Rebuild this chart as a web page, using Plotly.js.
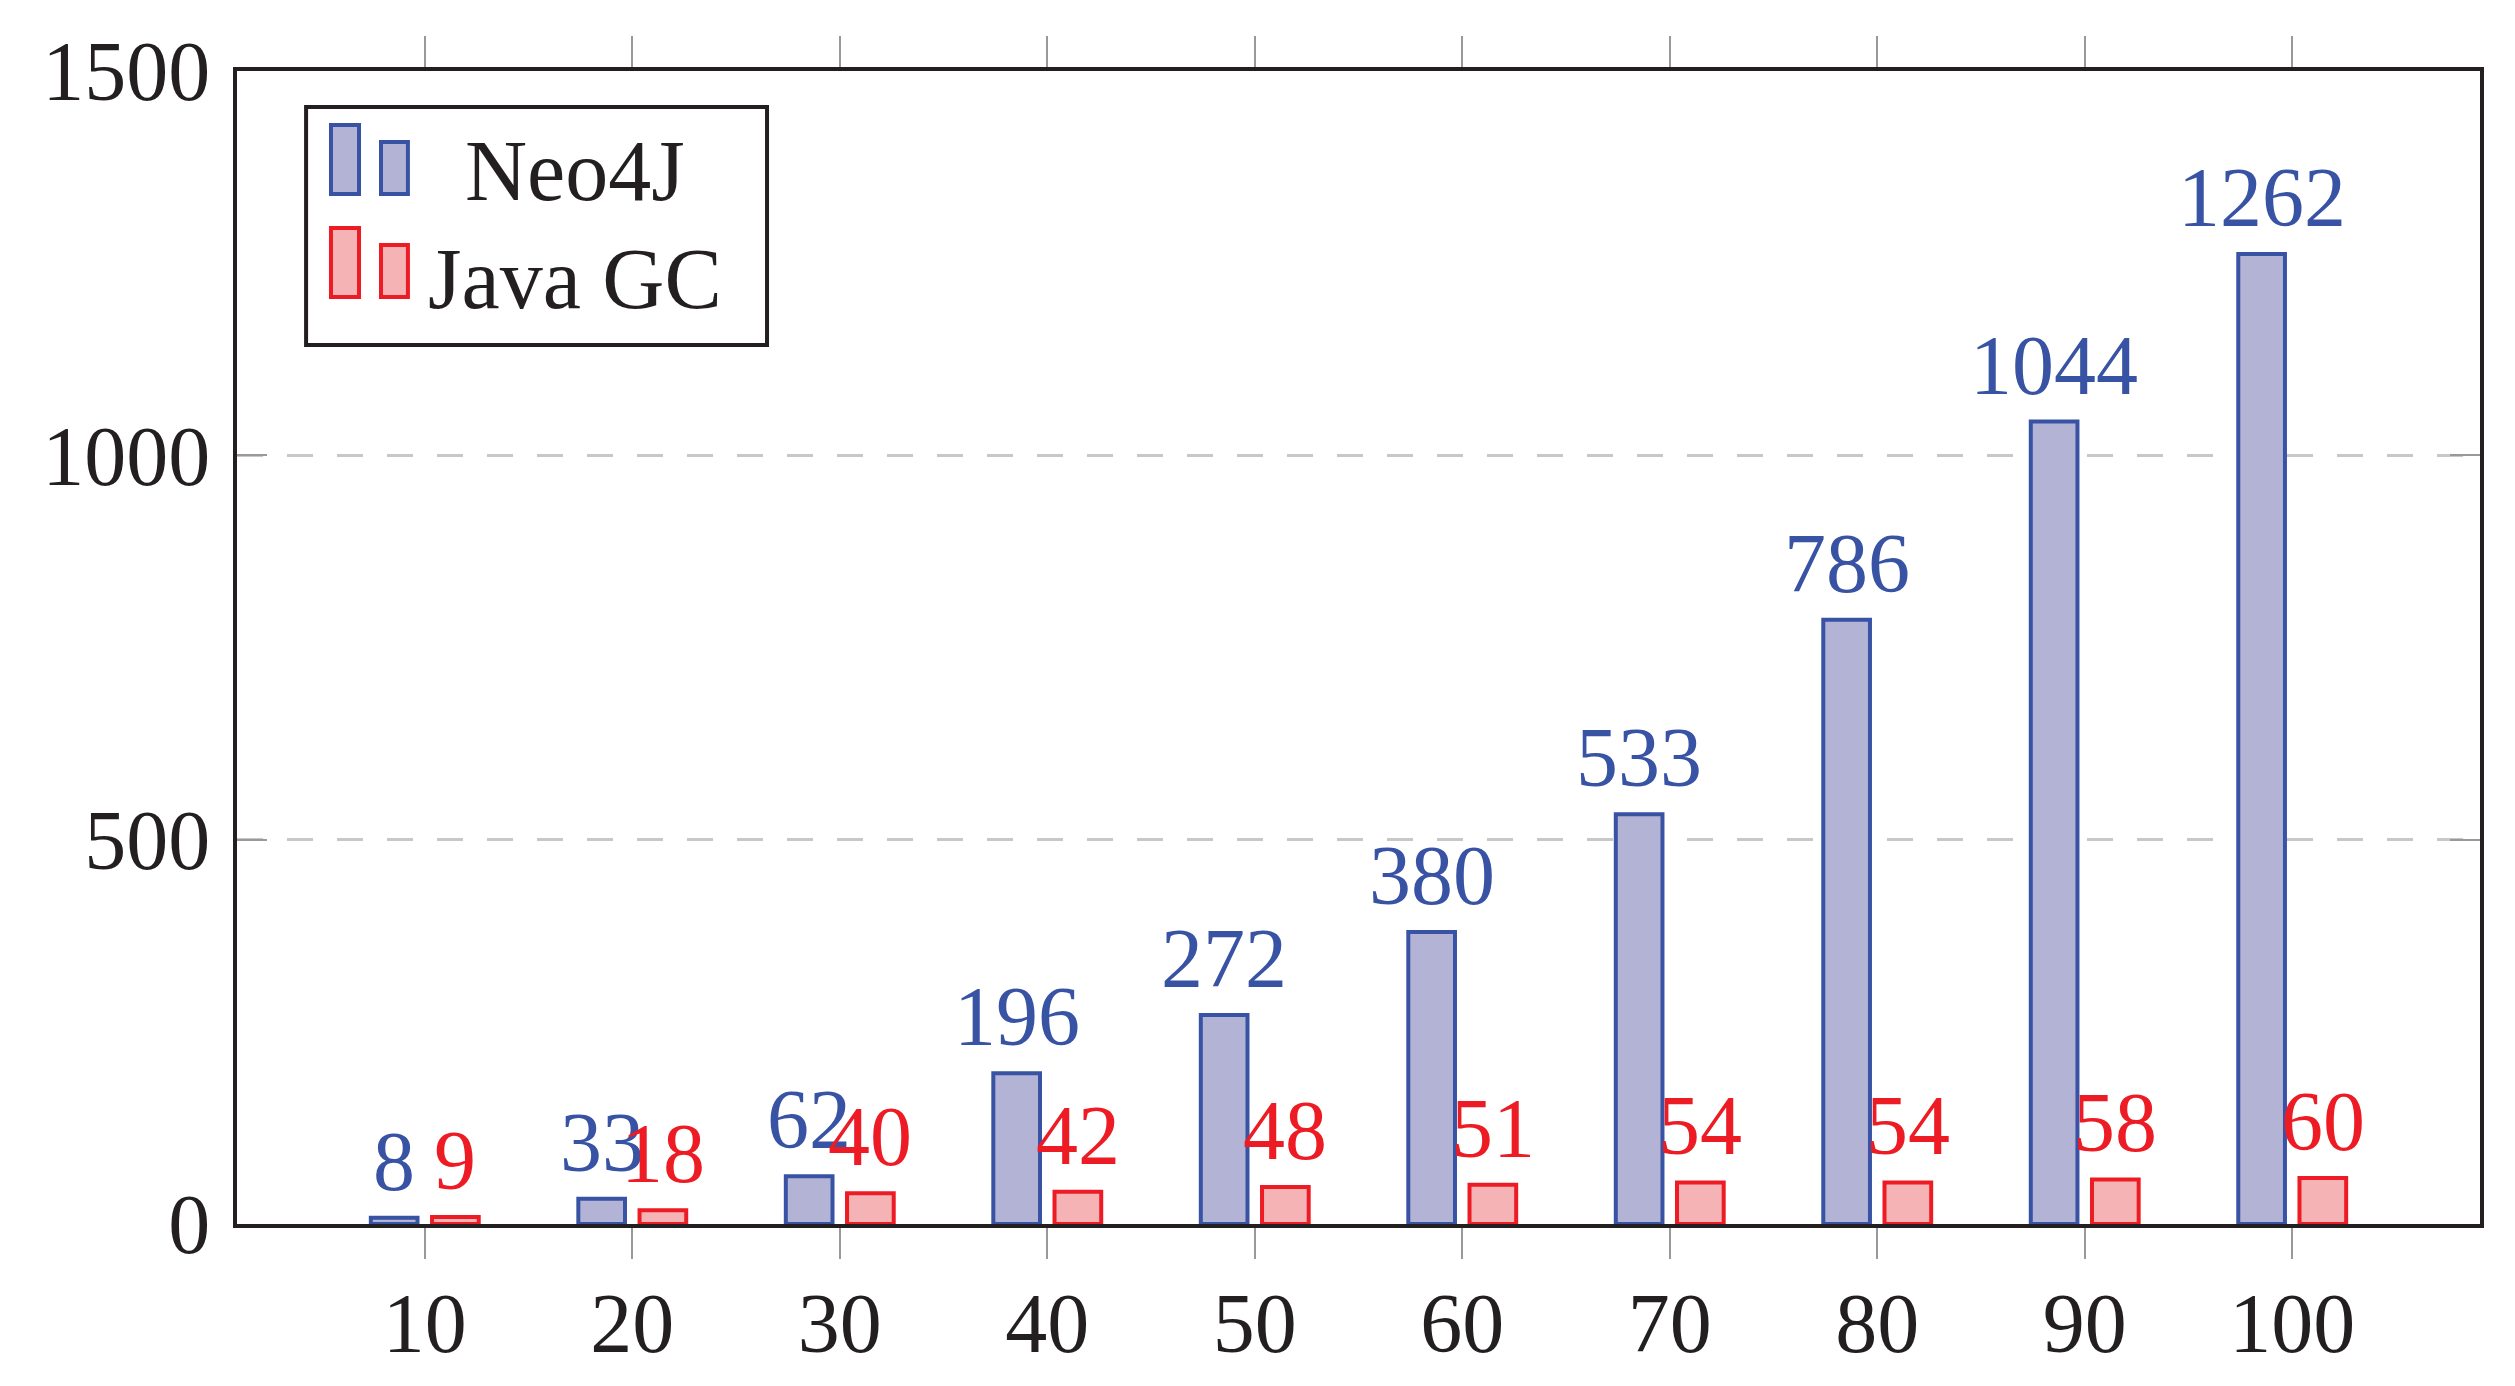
<!DOCTYPE html>
<html>
<head>
<meta charset="utf-8">
<script src="https://cdn.plot.ly/plotly-3.0.1.min.js"></script>
<style>
  html, body { margin: 0; padding: 0; background: #ffffff; }
  #chart { width: 2515px; height: 1386px; }
</style>
</head>
<body>
<div id="chart"></div>
<script>
// ---- Data ----
const categories = [10, 20, 30, 40, 50, 60, 70, 80, 90, 100];
const seriesNames = ["Neo4J", "Java GC"];
const neo4jValues = [8, 33, 62, 196, 272, 380, 533, 786, 1044, 1262];
const javaGcValues = [9, 18, 40, 42, 48, 51, 54, 54, 58, 60];
const yTickValues = [0, 500, 1000, 1500];

// ---- Styles ----
const FONT = "Liberation Serif, 'Times New Roman', serif";
const TEXT_COLOR = "#231f20";
const NEO_EDGE = "#3953a4";
const NEO_FILL = "#b3b3d6";
const JAVA_EDGE = "#ed1c24";
const JAVA_FILL = "#f6b3b5";
const BAR_W = 2.25;
const NEO_OFF = -2.6;
const JAVA_OFF = 0.35;

const traces = [
  {
    type: "bar", name: seriesNames[0], x: categories, y: neo4jValues,
    width: BAR_W, offset: NEO_OFF,
    marker: { color: NEO_FILL, line: { color: NEO_EDGE, width: 4 } },
    hoverinfo: "x+y", showlegend: false
  },
  {
    type: "bar", name: seriesNames[1], x: categories, y: javaGcValues,
    width: BAR_W, offset: JAVA_OFF,
    marker: { color: JAVA_FILL, line: { color: JAVA_EDGE, width: 4 } },
    hoverinfo: "x+y", showlegend: false
  }
];

// Value labels above the bars
const annotations = [];
categories.forEach((c, i) => {
  annotations.push({
    x: c + NEO_OFF + BAR_W / 2, y: neo4jValues[i], xref: "x", yref: "y",
    text: String(neo4jValues[i]), showarrow: false, yanchor: "bottom", xanchor: "center",
    yshift: 8, font: { family: FONT, size: 84, color: NEO_EDGE }
  });
  annotations.push({
    x: c + JAVA_OFF + BAR_W / 2, y: javaGcValues[i], xref: "x", yref: "y",
    text: String(javaGcValues[i]), showarrow: false, yanchor: "bottom", xanchor: "center",
    yshift: 8, font: { family: FONT, size: 84, color: JAVA_EDGE }
  });
});

// Custom legend (box, double-bar icons, labels)
const shapes = [
  { type: "rect", xref: "paper", yref: "paper", x0: 0.0308, x1: 0.2363, y0: 0.7624, y1: 0.9688,
    line: { color: TEXT_COLOR, width: 4 }, fillcolor: "#ffffff", layer: "above" },
  { type: "rect", xref: "paper", yref: "paper", x0: 0.0419, x1: 0.0544, y0: 0.8933, y1: 0.9532,
    line: { color: NEO_EDGE, width: 4 }, fillcolor: NEO_FILL, layer: "above" },
  { type: "rect", xref: "paper", yref: "paper", x0: 0.0642, x1: 0.0762, y0: 0.8933, y1: 0.9384,
    line: { color: NEO_EDGE, width: 4 }, fillcolor: NEO_FILL, layer: "above" },
  { type: "rect", xref: "paper", yref: "paper", x0: 0.0419, x1: 0.0544, y0: 0.8040, y1: 0.8638,
    line: { color: JAVA_EDGE, width: 4 }, fillcolor: JAVA_FILL, layer: "above" },
  { type: "rect", xref: "paper", yref: "paper", x0: 0.0642, x1: 0.0762, y0: 0.8040, y1: 0.8491,
    line: { color: JAVA_EDGE, width: 4 }, fillcolor: JAVA_FILL, layer: "above" }
];
annotations.push({
  xref: "paper", yref: "paper", x: 0.1507, y: 0.9133, xanchor: "center", yanchor: "middle",
  text: seriesNames[0], showarrow: false, font: { family: FONT, size: 86, color: TEXT_COLOR }
});
annotations.push({
  xref: "paper", yref: "paper", x: 0.1507, y: 0.8200, xanchor: "center", yanchor: "middle",
  text: seriesNames[1], showarrow: false, font: { family: FONT, size: 86, color: TEXT_COLOR }
});

const layout = {
  width: 2515, height: 1386,
  margin: { l: 237, r: 35, t: 71, b: 162, pad: 0 },
  paper_bgcolor: "#ffffff", plot_bgcolor: "#ffffff",
  font: { family: FONT, color: TEXT_COLOR, size: 82 },
  showlegend: false,
  barmode: "overlay",
  xaxis: {
    range: [0.95, 109.05],
    tickmode: "array", tickvals: categories, ticktext: categories.map(String),
    ticks: "outside", ticklen: 31, tickwidth: 2, tickcolor: "#999999",
    showline: true, linecolor: TEXT_COLOR, linewidth: 4, mirror: "ticks",
    showgrid: false, zeroline: false,
    tickfont: { family: FONT, size: 84, color: TEXT_COLOR },
    ticklabelstandoff: -8
  },
  yaxis: {
    range: [0, 1500],
    tickmode: "array", tickvals: yTickValues, ticktext: yTickValues.map(String),
    ticks: "inside", ticklen: 30, tickwidth: 2, tickcolor: "#999999",
    showline: true, linecolor: TEXT_COLOR, linewidth: 4, mirror: "ticks",
    showgrid: true, gridcolor: "#c8c8c8", gridwidth: 3, griddash: "26px,24px",
    zeroline: false,
    tickfont: { family: FONT, size: 84, color: TEXT_COLOR },
    ticklabelstandoff: 6
  },
  shapes: shapes,
  annotations: annotations
};

Plotly.newPlot("chart", traces, layout, { staticPlot: true, displayModeBar: false });
</script>
</body>
</html>
